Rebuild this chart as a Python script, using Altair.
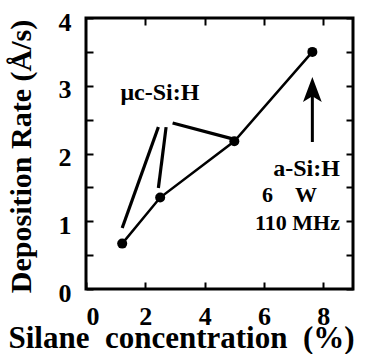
import altair as alt
import pandas as pd

# measured data
silane = [1.22, 2.5, 5.0, 7.63]
rate = [0.67, 1.35, 2.18, 3.50]

# leader lines for the "μc-Si:H" label
lead_x = [1.22, 2.44, 2.92]
lead_y = [0.90, 1.49, 2.45]
lead_x2 = [2.44, 2.70, 4.91]
lead_y2 = [2.39, 2.39, 2.22]

# arrow pointing to the a-Si:H point
arrow_x = [7.63]
arrow_y = [2.17]
arrow_y2 = [2.92]
arrow_head_y = [2.945]

# annotations
phase_mc_text = ["μc-Si:H"]
phase_mc_x = [2.49]
phase_mc_y = [2.79]
phase_a_text = ["a-Si:H"]
phase_a_x = [8.56]
phase_a_y = [1.67]
cond_text = ["6\u00a0\u00a0\u00a0\u00a0W", "110 MHz"]
cond_x = [7.79, 8.56]
cond_y = [1.28, 0.87]

x_ticks = [0, 2, 4, 6, 8]
y_ticks = [0, 0.5, 1, 1.5, 2, 2.5, 3, 3.5, 4]

FONT = "Liberation Serif"

xs = alt.Scale(domain=[0, 9], nice=False)
ys = alt.Scale(domain=[0, 4], nice=False)

pts = pd.DataFrame({"x": silane, "y": rate})
leads = pd.DataFrame({"x": lead_x, "y": lead_y, "x2": lead_x2, "y2": lead_y2})
arrow = pd.DataFrame({"x": arrow_x, "y": arrow_y, "y2": arrow_y2, "hy": arrow_head_y})
mc_df = pd.DataFrame({"t": phase_mc_text, "x": phase_mc_x, "y": phase_mc_y})
a_df = pd.DataFrame({"t": phase_a_text, "x": phase_a_x, "y": phase_a_y})
cond_df = pd.DataFrame({"t": cond_text, "x": cond_x, "y": cond_y})

x_axis = alt.Axis(
    orient="bottom", values=x_ticks, offset=-7, tickSize=7, tickWidth=2,
    tickColor="black", domain=False, grid=False, format="d",
    labelFont=FONT, labelFontWeight="bold", labelFontSize=26, labelColor="black",
    labelPadding=14,
    title="Silane\u00a0\u00a0concentration\u00a0\u00a0(%)",
    titleFont=FONT, titleFontWeight="bold", titleFontSize=31, titleColor="black",
    titleX=95, titleY=65, titleAlign="center", titleBaseline="alphabetic",
)
y_axis = alt.Axis(
    orient="left", values=y_ticks, offset=-7, tickSize=7, tickWidth=2,
    tickColor="black", domain=False, grid=False,
    labelFont=FONT, labelFontWeight="bold", labelFontSize=26, labelColor="black",
    labelPadding=15, labelOffset=4,
    labelExpr="datum.value % 1 == 0 ? format(datum.value, 'd') : ''",
    title="Deposition Rate (Å/s)",
    titleFont=FONT, titleFontWeight="bold", titleFontSize=30, titleColor="black",
    titleX=-63, titleY=138, titleAlign="center", titleBaseline="alphabetic", titleAngle=270,
)
x_top = alt.Axis(orient="top", values=[2, 4, 6, 8], offset=-7, tickSize=7, tickWidth=2,
                 tickColor="black", domain=False, grid=False, labels=False, title=None)
y_right = alt.Axis(orient="right", values=y_ticks, offset=-7, tickSize=7, tickWidth=2,
                   tickColor="black", domain=False, grid=False, labels=False, title=None)

line = alt.Chart(pts).mark_line(color="black", strokeWidth=2.5).encode(
    x=alt.X("x:Q", scale=xs, axis=x_axis),
    y=alt.Y("y:Q", scale=ys, axis=y_axis),
)
points = alt.Chart(pts).mark_point(filled=True, color="black", size=100, opacity=1).encode(
    x=alt.X("x:Q", scale=xs, axis=x_top),
    y=alt.Y("y:Q", scale=ys, axis=y_right),
)
lead_rules = alt.Chart(leads).mark_rule(color="black", strokeWidth=3.2).encode(
    x=alt.X("x:Q", scale=xs, axis=None), y=alt.Y("y:Q", scale=ys, axis=None),
    x2="x2:Q", y2="y2:Q",
)
arrow_shaft = alt.Chart(arrow).mark_rule(color="black", strokeWidth=3).encode(
    x=alt.X("x:Q", scale=xs, axis=None), y=alt.Y("y:Q", scale=ys, axis=None), y2="y2:Q",
)
arrow_head = alt.Chart(arrow).mark_point(
    filled=True, color="black", opacity=1, size=625,
    shape="M0,-1L0.75,1L0,0.55L-0.75,1Z",
).encode(
    x=alt.X("x:Q", scale=xs, axis=None), y=alt.Y("hy:Q", scale=ys, axis=None),
)


def text_layer(df, align, size):
    return alt.Chart(df).mark_text(
        font=FONT, fontWeight="bold", fontSize=size, color="black",
        align=align, baseline="alphabetic",
    ).encode(
        x=alt.X("x:Q", scale=xs, axis=None), y=alt.Y("y:Q", scale=ys, axis=None), text="t:N",
    )


txt_mc = text_layer(mc_df, "center", 24)
txt_a = text_layer(a_df, "right", 24)
txt_cond = text_layer(cond_df, "right", 22)

chart = alt.layer(
    line, lead_rules, arrow_shaft, arrow_head, points, txt_mc, txt_a, txt_cond
).resolve_axis(x="independent", y="independent").properties(
    width=267, height=271,
    autosize=alt.AutoSizeParams(type="none"),
    padding={"left": 86, "top": 18, "right": 13, "bottom": 65},
    background="white",
).configure(font=FONT).configure_view(stroke="black", strokeWidth=3).configure_axis(
    labelFont=FONT, titleFont=FONT
).configure_text(font=FONT)

chart.save("out.html", embed_options={"renderer": "svg", "actions": False})
